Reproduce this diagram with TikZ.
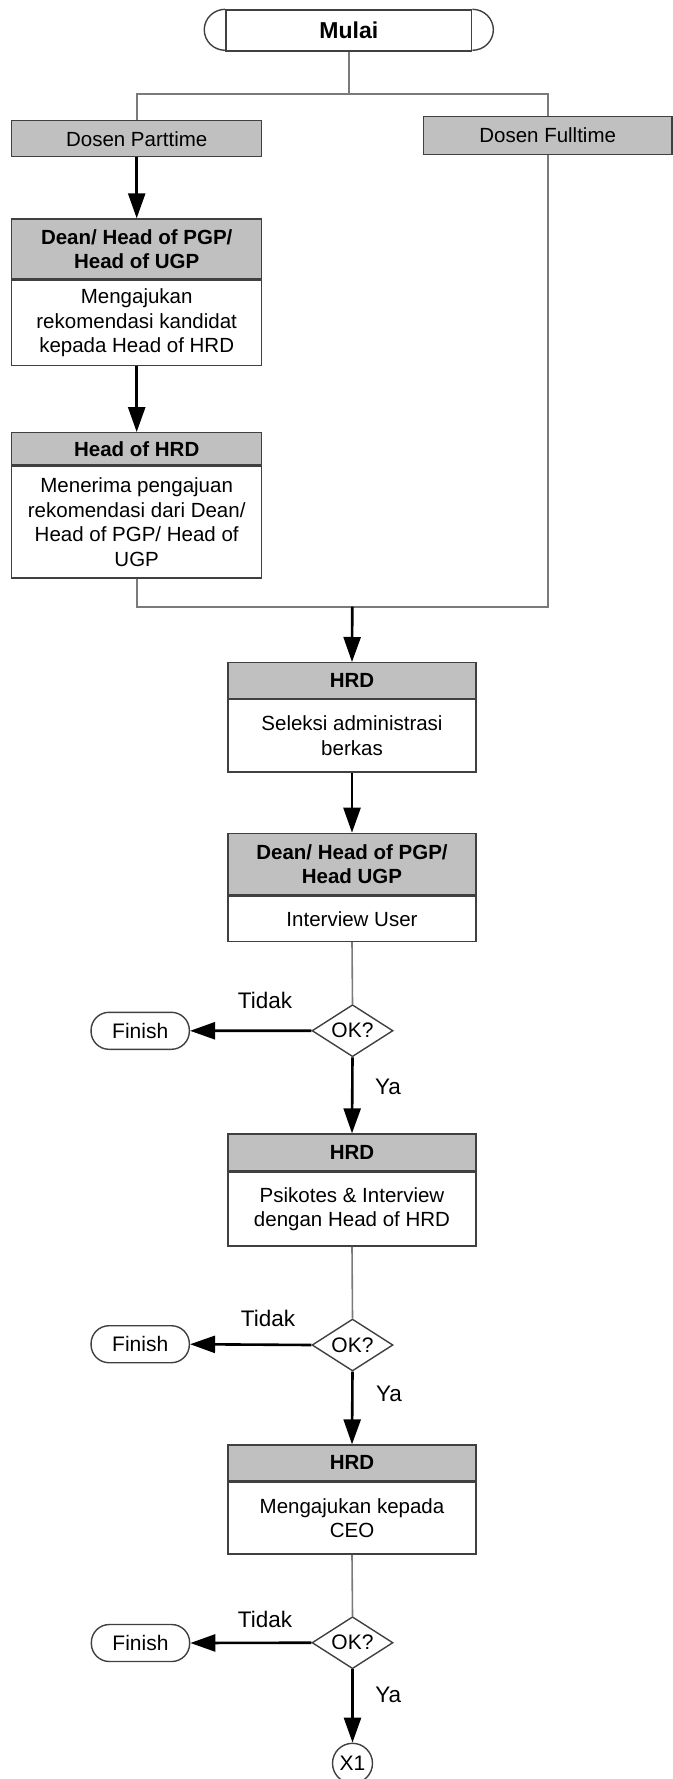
\documentclass[tikz,border=0pt]{standalone}
\usepackage{fontspec}
\setmainfont{Liberation Sans}
\usetikzlibrary{arrows.meta,shapes.geometric}
\definecolor{boxgray}{HTML}{C0C0C0}
\definecolor{edgegray}{HTML}{404040}
\definecolor{linegray}{HTML}{7A7A7A}
\tikzset{
  box/.style={draw=edgegray, line width=1.4pt, inner sep=0pt, align=center,
    font=\fontsize{20.5}{24.5}\selectfont},
  hdr/.style={box, fill=boxgray, font=\fontsize{20.5}{24.5}\selectfont\bfseries},
  lane/.style={box, fill=boxgray},
  bodybox/.style={box, fill=white},
  leftcol/.style={minimum width=250pt},
  maincol/.style={minimum width=248.3pt},
  conn/.style={draw=linegray, line width=1.6pt},
  arr/.style={draw=black, line width=2.6pt, -{Triangle[length=25pt,width=17pt]}},
  okdia/.style={diamond, draw=edgegray, line width=1.4pt, fill=white, inner sep=0pt,
    minimum width=81pt, minimum height=52pt, aspect=1.56,
    font=\fontsize{21}{24}\selectfont},
  finbox/.style={draw=edgegray, line width=1.4pt, rounded corners=18pt, fill=white,
    minimum width=98.3pt, minimum height=37pt, inner sep=0pt,
    font=\fontsize{21}{24}\selectfont},
  lbl/.style={inner sep=0pt, font=\fontsize{22.5}{26}\selectfont},
}
\begin{document}
\begin{tikzpicture}[x=1pt,y=1pt]
\useasboundingbox (0,0) rectangle (672,-1779);
% start
\node[box, minimum width=245.7pt, minimum height=41pt, font=\fontsize{23}{26}\selectfont\bfseries] (mulai) at (348.8,-30.5) {Mulai};
\draw[edgegray, line width=1.4pt] (mulai.north east) arc[start angle=90, end angle=-90, x radius=21, y radius=20.5];
\draw[edgegray, line width=1.4pt] (mulai.north west) arc[start angle=90, end angle=270, x radius=21, y radius=20.5];
% lanes
\node[lane, leftcol, minimum height=36pt] (parttime) at (136.7,-138.7) {Dosen Parttime};
\node[lane, minimum width=248.7pt, minimum height=37.8pt] (fulltime) at (547.7,-135.6) {Dosen Fulltime};
% left column
\node[hdr, leftcol, minimum height=60pt] (dean1h) at (136.7,-249) {Dean/ Head of PGP/\\Head of UGP};
\node[bodybox, leftcol, minimum height=85.3pt, anchor=north] (dean1b) at (dean1h.south) {Mengajukan\\rekomendasi kandidat\\kepada Head of HRD};
\node[hdr, leftcol, minimum height=32.3pt] (hohrdh) at (136.7,-448.9) {Head of HRD};
\node[bodybox, leftcol, minimum height=111.7pt, anchor=north] (hohrdb) at (hohrdh.south) {Menerima pengajuan\\rekomendasi dari Dean/\\Head of PGP/ Head of\\UGP};
% main column
\node[hdr, maincol, minimum height=35.6pt] (hrd1h) at (352,-680.5) {HRD};
\node[bodybox, maincol, minimum height=72.4pt, anchor=north] (hrd1b) at (hrd1h.south) {Seleksi administrasi\\berkas};
\node[hdr, maincol, minimum height=61.7pt] (dean2h) at (352,-864.2) {Dean/ Head of PGP/\\Head UGP};
\node[bodybox, maincol, minimum height=45pt, anchor=north] (dean2b) at (dean2h.south) {Interview User};
\node[okdia] (d1) at (352.5,-1030.7) {OK?};
\node[finbox] (fin1) at (140.2,-1030.8) {Finish};
\node[lbl] (t1) at (265,-1000) {Tidak};
\node[lbl] (y1) at (388,-1086.7) {Ya};
\node[hdr, maincol, minimum height=36.7pt] (hrd2h) at (352,-1152.4) {HRD};
\node[bodybox, maincol, minimum height=74pt, anchor=north] (hrd2b) at (hrd2h.south) {Psikotes \& Interview\\dengan Head of HRD};
\node[okdia] (d2) at (352.5,-1345) {OK?};
\node[finbox] (fin2) at (140.2,-1344.2) {Finish};
\node[lbl] (t2) at (268,-1318.5) {Tidak};
\node[lbl] (y2) at (389,-1394) {Ya};
\node[hdr, maincol, minimum height=35.7pt] (hrd3h) at (352,-1462.9) {HRD};
\node[bodybox, maincol, minimum height=72pt, anchor=north] (hrd3b) at (hrd3h.south) {Mengajukan kepada\\CEO};
\node[okdia] (d3) at (352.5,-1642.7) {OK?};
\node[finbox] (fin3) at (140.5,-1643) {Finish};
\node[lbl] (t3) at (265,-1619.3) {Tidak};
\node[lbl] (y3) at (388.3,-1695) {Ya};
\node[circle, draw=edgegray, line width=1.4pt, minimum size=40pt, inner sep=0pt, font=\fontsize{21}{24}\selectfont] (x1) at (352.5,-1763.3) {X1};
% connectors
\coordinate (split) at (348.8,-94.3);
\coordinate (join) at (352.3,-606.7);
\draw[conn] (mulai.south) -- (split);
\draw[conn] (parttime.north) -- (parttime.north |- split) -- (fulltime.north |- split) -- (fulltime.north);
\draw[arr] (parttime.south) -- (dean1h.north);
\draw[arr] (dean1b.south) -- (hohrdh.north);
\draw[conn] (hohrdb.south) -- (hohrdb.south |- join) -- (fulltime.south |- join) -- (fulltime.south);
\draw[arr] (join) -- (hrd1h.north);
\draw[arr] (hrd1b.south) -- (dean2h.north);
\draw[conn] (dean2b.south) -- (d1.north);
\draw[arr] (d1.west) -- (fin1.east);
\draw[arr] (d1.south) -- (hrd2h.north);
\draw[conn] (hrd2b.south) -- (d2.north);
\draw[arr] (d2.west) -- (fin2.east);
\draw[arr] (d2.south) -- (hrd3h.north);
\draw[conn] (hrd3b.south) -- (d3.north);
\draw[arr] (d3.west) -- (fin3.east);
\draw[arr] (d3.south) -- (x1.north);
\end{tikzpicture}
\end{document}
